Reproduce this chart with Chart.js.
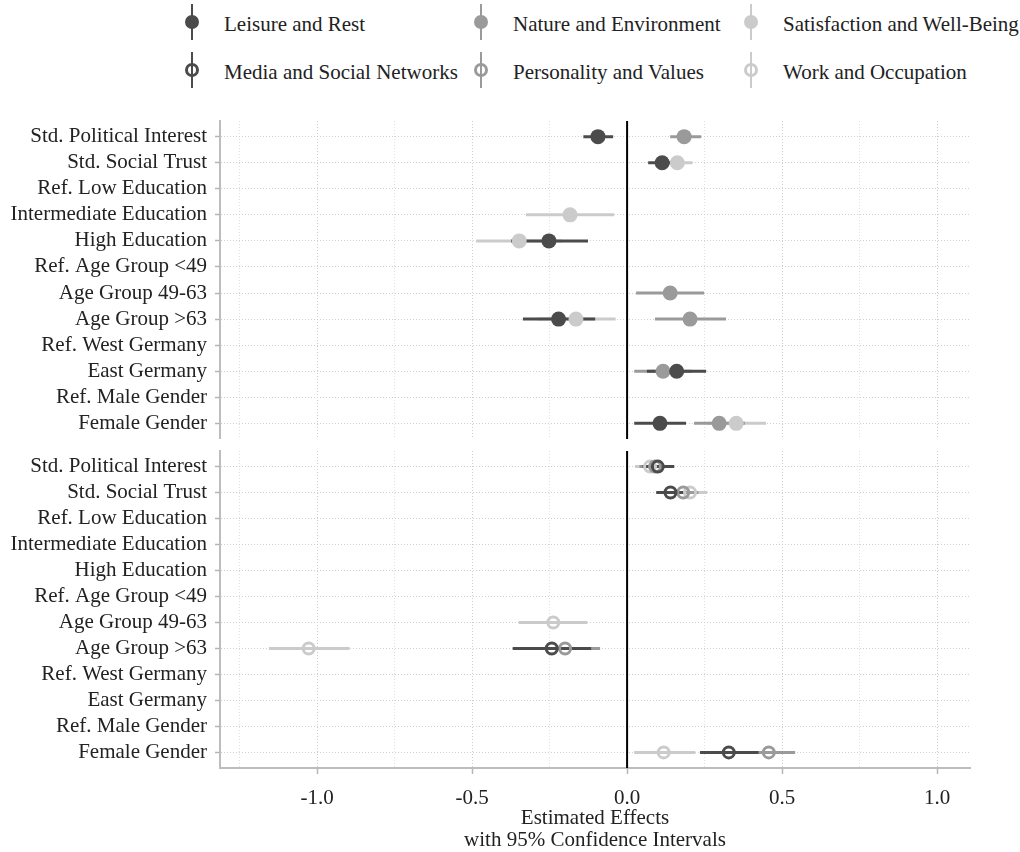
<!DOCTYPE html>
<html>
<head>
<meta charset="utf-8">
<script src="https://cdn.jsdelivr.net/npm/chart.js@4.4.1/dist/chart.umd.min.js"></script>
<style>
  body { margin: 0; background: #fff; font-family: "Liberation Serif", "DejaVu Serif", serif; }
  #wrap { position: relative; width: 1020px; height: 852px; }
  .leg { position: absolute; font-size: 21px; color: #222; white-space: nowrap; }
  .leg .bar { position: absolute; left: -33px; top: -8px; width: 2px; height: 36px; }
  .leg .dot { position: absolute; left: -39px; top: 3px; width: 14px; height: 14px; border-radius: 50%; box-sizing: border-box; }
  canvas { position: absolute; left: 0; }
</style>
</head>
<body>
<div id="wrap">
  <div id="legend"></div>
  <canvas id="topChart"></canvas>
  <canvas id="bottomChart"></canvas>
</div>
<script>
const rows = [
  'Std. Political Interest', 'Std. Social Trust', 'Ref. Low Education', 'Intermediate Education',
  'High Education', 'Ref. Age Group <49', 'Age Group 49-63', 'Age Group >63',
  'Ref. West Germany', 'East Germany', 'Ref. Male Gender', 'Female Gender'
];
const xTicks = [-1.25, -1.0, -0.75, -0.5, -0.25, 0, 0.25, 0.5, 0.75, 1.0];

// top panel
const leisureEst = [-0.094, 0.113, null, null, -0.252, null, null, -0.221, null, 0.160, null, 0.106];
const leisureLo  = [-0.141, 0.068, null, null, -0.374, null, null, -0.336, null, 0.064, null, 0.023];
const leisureHi  = [-0.045, 0.158, null, null, -0.126, null, null, -0.103, null, 0.255, null, 0.190];

const natureEst = [0.184, null, null, null, null, null, 0.139, 0.203, null, 0.116, null, 0.297];
const natureLo  = [0.139, null, null, null, null, null, 0.029, 0.090, null, 0.023, null, 0.216];
const natureHi  = [0.239, null, null, null, null, null, 0.248, 0.319, null, 0.210, null, 0.380];

const satisEst = [null, 0.162, null, -0.184, -0.348, null, null, -0.165, null, null, null, 0.352];
const satisLo  = [null, 0.115, null, -0.326, -0.487, null, null, -0.290, null, null, null, 0.260];
const satisHi  = [null, 0.211, null, -0.042, -0.210, null, null, -0.037, null, null, null, 0.448];

// bottom panel
const mediaEst = [0.099, 0.140, null, null, null, null, null, -0.243, null, null, null, 0.328];
const mediaLo  = [0.050, 0.094, null, null, null, null, null, -0.369, null, null, null, 0.235];
const mediaHi  = [0.152, 0.190, null, null, null, null, null, -0.116, null, null, null, 0.424];

const persEst = [0.090, 0.181, null, null, null, null, null, -0.200, null, null, null, 0.457];
const persLo  = [0.040, 0.130, null, null, null, null, null, -0.300, null, null, null, 0.370];
const persHi  = [0.140, 0.230, null, null, null, null, null, -0.087, null, null, null, 0.542];

const workEst = [0.074, 0.203, null, null, null, null, -0.238, -1.027, null, null, null, 0.118];
const workLo  = [0.025, 0.150, null, null, null, null, -0.350, -1.155, null, null, null, 0.023];
const workHi  = [0.125, 0.258, null, null, null, null, -0.128, -0.895, null, null, null, 0.220];

const DARK = '#4b4b4b', MID = '#9a9a9a', LIGHT = '#cbcbcb';

// legend
const legendItems = [
  ['Leisure and Rest', DARK, false, 224, 24],
  ['Nature and Environment', MID, false, 513, 24],
  ['Satisfaction and Well-Being', LIGHT, false, 783, 24],
  ['Media and Social Networks', DARK, true, 224, 72],
  ['Personality and Values', MID, true, 513, 72],
  ['Work and Occupation', LIGHT, true, 783, 72]
];
const legendBox = document.getElementById('legend');
legendItems.forEach(([name, col, hollow, x, y]) => {
  const d = document.createElement('div');
  d.className = 'leg';
  d.style.left = x + 'px';
  d.style.top = (y - 12) + 'px';
  const dotStyle = hollow
    ? 'border:3px solid ' + col + ';background:transparent'
    : 'background:' + col;
  d.innerHTML = '<div class="bar" style="background:' + col + '"></div>' +
    '<div class="dot" style="' + dotStyle + '"></div>' + name;
  legendBox.appendChild(d);
});

function ciData(lo, hi) {
  const out = [];
  lo.forEach((v, i) => {
    if (v === null) return;
    out.push({x: v, y: i + 1}, {x: hi[i], y: i + 1}, {x: null, y: null});
  });
  return out;
}
function ptData(est) {
  return est.map((v, i) => v === null ? null : {x: v, y: i + 1}).filter(p => p);
}
function series(est, lo, hi, col, hollow, k) {
  return [
    {
      data: ciData(lo, hi), showLine: true, spanGaps: false,
      borderColor: col, borderWidth: 3, pointRadius: 0, order: 10 + k
    },
    {
      data: ptData(est), showLine: false,
      pointRadius: hollow ? 5.5 : 7.5, pointHoverRadius: hollow ? 5.5 : 7.5,
      pointBackgroundColor: hollow ? 'rgba(0,0,0,0)' : col,
      pointBorderColor: col, pointBorderWidth: hollow ? 3 : 0, order: 1 + k
    }
  ];
}

const zeroLine = {
  id: 'zeroLine',
  beforeDatasetsDraw(chart) {
    const {ctx, chartArea, scales} = chart;
    const px = scales.x.getPixelForValue(0);
    ctx.save();
    ctx.strokeStyle = '#000';
    ctx.lineWidth = 2;
    ctx.beginPath();
    ctx.moveTo(px, chartArea.top);
    ctx.lineTo(px, chartArea.bottom);
    ctx.stroke();
    ctx.restore();
  }
};

const FONT = {family: '"Liberation Serif", "DejaVu Serif", serif', size: 21};
const isMajor = v => Math.abs(v * 2 - Math.round(v * 2)) < 1e-9;

function makeOptions(showX) {
  return {
    responsive: false,
    animation: false,
    events: [],
    layout: {autoPadding: false, padding: {top: 10, right: 50, bottom: 0, left: 0}},
    plugins: {legend: {display: false}, tooltip: {enabled: false}},
    scales: {
      x: {
        type: 'linear', min: -1.313, max: 1.106,
        afterBuildTicks: s => { s.ticks = xTicks.map(v => ({value: v})); },
        afterFit: s => {
          s.height = showX ? 84 : 0;
          s.paddingLeft = 0; s.paddingRight = 0;
        },
        ticks: {
          display: showX, color: '#222', font: FONT, padding: 12, maxRotation: 0, autoSkip: false,
          callback: v => isMajor(v) ? v.toFixed(1) : ''
        },
        grid: {
          drawTicks: showX, tickLength: 6, tickWidth: 1.5,
          tickColor: c => isMajor(c.tick.value) ? '#b5b5b5' : 'rgba(0,0,0,0)',
          color: c => isMajor(c.tick.value) ? '#cdcdcd' : '#e0e0e0',
          lineWidth: 1
        },
        border: {display: showX, color: '#bdbdbd', width: 2, dash: [1, 2]},
        title: {
          display: showX, text: ['Estimated Effects', 'with 95% Confidence Intervals'],
          color: '#222', font: {...FONT, lineHeight: 1.05}, padding: {top: 0, bottom: 0}
        }
      },
      y: {
        type: 'linear', min: 0.4, max: 12.6, reverse: true,
        afterBuildTicks: s => { s.ticks = rows.map((_, i) => ({value: i + 1})); },
        afterFit: s => { s.width = 220; s.paddingTop = 0; s.paddingBottom = 0; },
        ticks: {color: '#222', font: FONT, padding: 8, autoSkip: false, callback: v => rows[v - 1]},
        grid: {color: '#cfcfcf', lineWidth: 1, tickLength: 5, tickWidth: 1.5, tickColor: '#b5b5b5', tickBorderDash: []},
        border: {color: '#bdbdbd', width: 2, dash: [1, 2]}
      }
    }
  };
}

const topCanvas = document.getElementById('topChart');
topCanvas.width = 1020; topCanvas.height = 328; topCanvas.style.top = '111px';
new Chart(topCanvas, {
  type: 'scatter',
  data: {datasets: [
    ...series(leisureEst, leisureLo, leisureHi, DARK, false, 0),
    ...series(natureEst, natureLo, natureHi, MID, false, 1),
    ...series(satisEst, satisLo, satisHi, LIGHT, false, 2)
  ]},
  options: makeOptions(false),
  plugins: [zeroLine]
});

const botCanvas = document.getElementById('bottomChart');
botCanvas.width = 1020; botCanvas.height = 411; botCanvas.style.top = '441px';
new Chart(botCanvas, {
  type: 'scatter',
  data: {datasets: [
    ...series(mediaEst, mediaLo, mediaHi, DARK, true, 0),
    ...series(persEst, persLo, persHi, MID, true, 1),
    ...series(workEst, workLo, workHi, LIGHT, true, 2)
  ]},
  options: makeOptions(true),
  plugins: [zeroLine]
});
</script>
</body>
</html>
